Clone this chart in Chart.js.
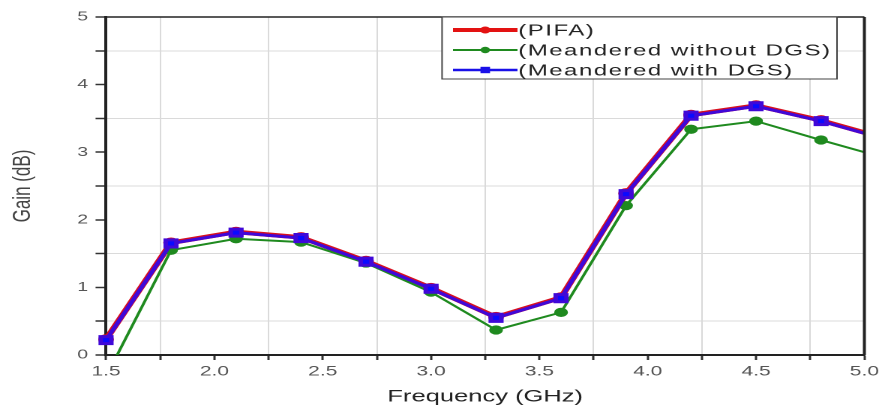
<!DOCTYPE html>
<html>
<head>
<meta charset="utf-8">
<script src="https://cdn.jsdelivr.net/npm/chart.js@4.4.0/dist/chart.umd.min.js"></script>
<style>
  html, body { margin: 0; padding: 0; background: #fff; overflow: hidden; }
  /* the original figure is stretched horizontally, so draw narrow and stretch */
  #chart { transform: scaleX(1.5); transform-origin: 0 0; display: block; }
</style>
</head>
<body>
<canvas id="chart" width="589" height="408"></canvas>
<script>
// frequency (GHz); last point lies past the axis end and is clipped
var freq    = [1.5, 1.8, 2.1, 2.4, 2.7, 3.0, 3.3, 3.6, 3.9, 4.2, 4.5, 4.8, 5.1];
var pifa    = [0.23, 1.66, 1.82, 1.74, 1.39, 0.99, 0.56, 0.85, 2.39, 3.55, 3.69, 3.47, 3.20];
var noDgs   = [-0.32, 1.55, 1.72, 1.67, 1.36, 0.93, 0.37, 0.63, 2.21, 3.34, 3.46, 3.18, 2.91];
var withDgs = [0.22, 1.65, 1.81, 1.73, 1.38, 0.98, 0.55, 0.84, 2.38, 3.54, 3.68, 3.46, 3.19];
var seriesNames = ['(PIFA)', '(Meandered without DGS)', '(Meandered with DGS)'];

var FONT = "'Liberation Sans', Arial, sans-serif";

function pts(ys) {
  return freq.map(function (f, i) { return { x: f, y: ys[i] }; });
}
function isMajor(v, step) {
  return Math.abs(v / step - Math.round(v / step)) < 1e-6;
}

var frameAndLegend = {
  id: 'frameAndLegend',
  afterDraw: function (chart) {
    var ctx = chart.ctx, a = chart.chartArea;
    ctx.save();
    ctx.strokeStyle = '#222';
    ctx.lineWidth = 1.5;
    ctx.beginPath();
    ctx.moveTo(a.left, a.top);
    ctx.lineTo(a.right, a.top);
    ctx.stroke();
    ctx.lineWidth = 2;
    ctx.beginPath();
    ctx.moveTo(a.right, a.top);
    ctx.lineTo(a.right, a.bottom);
    ctx.stroke();

    // legend box
    var bx = 294.7, by = a.top, bw = 263.3, bh = 62;
    ctx.fillStyle = '#fff';
    ctx.fillRect(bx, by, bw, bh);
    ctx.strokeStyle = '#444';
    ctx.lineWidth = 1;
    ctx.strokeRect(bx, by, bw, bh);

    var rows = [30, 50, 70];
    var styles = [
      { c: '#e31212', w: 4, shape: 'circle', r: 3.5 },
      { c: '#1f8a1f', w: 2, shape: 'circle', r: 3.2 },
      { c: '#1a10e8', w: 2.5, shape: 'rect', r: 3.2 }
    ];
    for (var i = 0; i < 3; i++) {
      var s = styles[i], y = rows[i];
      ctx.strokeStyle = s.c;
      ctx.lineWidth = s.w;
      ctx.beginPath();
      ctx.moveTo(302, y);
      ctx.lineTo(345, y);
      ctx.stroke();
      ctx.fillStyle = s.c;
      ctx.beginPath();
      if (s.shape === 'rect') ctx.rect(323.5 - s.r, y - s.r, 2 * s.r, 2 * s.r);
      else ctx.arc(323.5, y, s.r, 0, Math.PI * 2);
      ctx.fill();

      ctx.fillStyle = '#222';
      ctx.font = '16px ' + FONT;
      ctx.letterSpacing = '1px';
      ctx.textBaseline = 'middle';
      ctx.textAlign = 'left';
      ctx.fillText(seriesNames[i], 345.5, y + 1);
    }
    ctx.restore();
  }
};

var ctx = document.getElementById('chart').getContext('2d');

var myChart = new Chart(ctx, {
  type: 'line',
  data: {
    datasets: [{
      label: seriesNames[0],
      data: pts(pifa),
      order: 2,
      borderColor: '#d81020',
      backgroundColor: '#d81020',
      borderWidth: 4.5,
      pointRadius: 3,
      pointStyle: 'circle'
    }, {
      label: seriesNames[1],
      data: pts(noDgs),
      order: 1,
      borderColor: '#1f8a1f',
      backgroundColor: '#1f8a1f',
      borderWidth: 2,
      pointRadius: 3.6,
      pointStyle: 'circle'
    }, {
      label: seriesNames[2],
      data: pts(withDgs),
      order: 0,
      borderColor: '#4008d8',
      backgroundColor: '#0a0aff',
      borderWidth: 3,
      pointRadius: 5,
      pointStyle: 'rect'
    }]
  },
  options: {
    responsive: false,
    animation: false,
    devicePixelRatio: 2,
    layout: { padding: { top: 17, right: 12.3, left: 0, bottom: 0 } },
    datasets: { line: { clip: { left: 6, top: 0, right: 0, bottom: 0 }, tension: 0 } },
    elements: { point: { borderWidth: 0 } },
    plugins: {
      legend: { display: false },
      tooltip: { enabled: false }
    },
    scales: {
      x: {
        type: 'linear',
        min: 1.5,
        max: 5.0,
        afterFit: function (scale) { scale.height = 53; },
        afterBuildTicks: function (scale) {
          var t = [];
          for (var v = 1.5; v <= 5.0001; v += 0.25) t.push({ value: Math.round(v * 100) / 100 });
          scale.ticks = t;
        },
        ticks: {
          autoSkip: false,
          maxRotation: 0,
          padding: 3,
          color: '#555',
          font: { family: FONT, size: 14 },
          callback: function (v) { return isMajor(v, 0.5) ? v.toFixed(1) : ''; }
        },
        grid: {
          color: function (c) { return c.tick && !isMajor(c.tick.value, 0.5) ? '#dadada' : 'rgba(0,0,0,0)'; },
          lineWidth: 1,
          tickColor: '#333',
          tickLength: 5,
          tickWidth: 1.5
        },
        border: { color: '#222', width: 2 },
        title: {
          display: true,
          text: 'Frequency (GHz)',
          color: '#222',
          font: { family: FONT, size: 17 },
          padding: { top: 0, bottom: 1 }
        }
      },
      y: {
        min: 0,
        max: 5,
        afterFit: function (scale) { scale.width = 70.7; },
        ticks: {
          stepSize: 0.5,
          padding: 5,
          color: '#555',
          font: { family: FONT, size: 13 },
          callback: function (v) { return isMajor(v, 1) ? String(v) : ''; }
        },
        grid: {
          color: function (c) { return c.tick && !isMajor(c.tick.value, 1) ? '#dadada' : 'rgba(0,0,0,0)'; },
          lineWidth: 1,
          tickColor: '#333',
          tickLength: 7,
          tickWidth: 1.5
        },
        border: { color: '#222', width: 2 },
        title: {
          display: true,
          text: 'Gain (dB)',
          color: '#444',
          font: { family: FONT, size: 17 },
          padding: { top: 5, bottom: 0 }
        }
      }
    }
  },
  plugins: [frameAndLegend]
});
</script>
</body>
</html>
